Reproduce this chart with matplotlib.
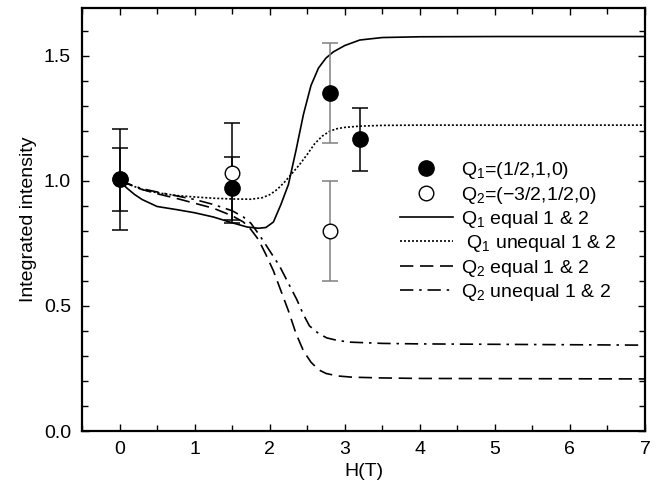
import matplotlib
matplotlib.use("Agg")
import matplotlib.pyplot as plt
from matplotlib.lines import Line2D
from matplotlib.legend_handler import HandlerLine2D
from matplotlib.ticker import MultipleLocator

plt.rcParams['font.family'] = ['Liberation Sans', 'DejaVu Sans']
plt.rcParams['mathtext.fontset'] = 'custom'
plt.rcParams['mathtext.rm'] = 'Liberation Sans'
plt.rcParams['mathtext.it'] = 'Liberation Sans'

# ---- data ----
# measured points
h_q1 = [0.0, 1.5, 2.8, 3.2]
y_q1 = [1.005, 0.97, 1.35, 1.165]
e_q1 = [0.125, 0.125, 0.2, 0.125]

h_q2 = [0.0, 1.5, 2.8]
y_q2 = [1.005, 1.03, 0.80]
e_q2 = [0.2, 0.2, 0.2]

# calculated curves
h_q1_eq = [0, 0.1, 0.2, 0.3, 0.5, 0.75, 1.0, 1.25, 1.5, 1.7, 1.85, 1.95, 2.05, 2.15,
           2.25, 2.35, 2.45, 2.55, 2.65, 2.75, 2.85, 3.0, 3.2, 3.5, 4.0, 5.0, 7.0]
y_q1_eq = [1.0, 0.97, 0.945, 0.925, 0.897, 0.885, 0.872, 0.855, 0.832, 0.815, 0.81, 0.813,
           0.835, 0.905, 0.985, 1.12, 1.265, 1.38, 1.45, 1.49, 1.515, 1.54, 1.562, 1.572,
           1.575, 1.576, 1.576]

h_q1_uneq = [0, 0.3, 0.5, 0.75, 1.0, 1.25, 1.5, 1.75, 1.9, 2.0, 2.1, 2.2, 2.3, 2.4, 2.5,
             2.6, 2.7, 2.8, 2.9, 3.0, 3.2, 3.5, 4.0, 7.0]
y_q1_uneq = [1.0, 0.965, 0.952, 0.941, 0.935, 0.93, 0.927, 0.926, 0.932, 0.944, 0.965,
             0.995, 1.03, 1.065, 1.105, 1.148, 1.178, 1.198, 1.208, 1.213, 1.218, 1.221,
             1.222, 1.222]

h_q2_eq = [0, 0.3, 0.5, 0.75, 1.0, 1.25, 1.5, 1.65, 1.75, 1.85, 1.95, 2.05, 2.15, 2.25,
           2.35, 2.45, 2.55, 2.65, 2.75, 2.9, 3.1, 3.5, 4.0, 7.0]
y_q2_eq = [1.0, 0.965, 0.948, 0.93, 0.91, 0.89, 0.86, 0.835, 0.805, 0.765, 0.705, 0.64,
           0.56, 0.48, 0.39, 0.32, 0.275, 0.245, 0.23, 0.22, 0.215, 0.212, 0.21, 0.208]

h_q2_uneq = [0, 0.3, 0.5, 0.75, 1.0, 1.25, 1.5, 1.65, 1.75, 1.87, 2.0, 2.13, 2.25, 2.36,
             2.45, 2.53, 2.65, 2.76, 2.9, 3.07, 3.5, 4.0, 7.0]
y_q2_uneq = [1.0, 0.968, 0.955, 0.94, 0.925, 0.905, 0.88, 0.855, 0.83, 0.78, 0.72, 0.66,
             0.59, 0.526, 0.465, 0.42, 0.39, 0.372, 0.362, 0.355, 0.35, 0.348, 0.343]

labels = [r"Q$_1$=(1/2,1,0)", r"Q$_2$=(−3/2,1/2,0)", r"Q$_1$ equal 1 & 2",
          r" Q$_1$ unequal 1 & 2", r"Q$_2$ equal 1 & 2", r"Q$_2$ unequal 1 & 2"]

# styles
ecol_q1 = ['black', 'black', '#808080', 'black']
ecol_q2 = ['black', 'black', '#808080']

FS = 14

fig = plt.figure(figsize=(6.59, 4.82), dpi=100)
ax = fig.add_axes([82/659, 51/482, 563/659, 423/482])

lw = 1.2
ax.plot(h_q1_eq, y_q1_eq, color='black', lw=lw, ls='-')
ax.plot(h_q1_uneq, y_q1_uneq, color='black', lw=lw, ls=(0, (1.2, 1.2)))
ax.plot(h_q2_eq, y_q2_eq, color='black', lw=lw, ls=(0, (8, 4)))
ax.plot(h_q2_uneq, y_q2_uneq, color='black', lw=lw, ls=(0, (8, 3.5, 1.5, 3.5)))

for x, y, e, c in zip(h_q2, y_q2, e_q2, ecol_q2):
    ax.errorbar([x], [y], yerr=[e], fmt='none', ecolor=c, elinewidth=1.1, capsize=5.5, capthick=1.1)
for x, y, e, c in zip(h_q1, y_q1, e_q1, ecol_q1):
    ax.errorbar([x], [y], yerr=[e], fmt='none', ecolor=c, elinewidth=1.1, capsize=5.5, capthick=1.1)

ax.plot(h_q2, y_q2, ls='none', marker='o', ms=10.5, mfc='white', mec='black', mew=1.0, zorder=5)
ax.plot(h_q1, y_q1, ls='none', marker='o', ms=11, mfc='black', mec='black', zorder=6)

ax.set_xlim(-0.5, 7)
ax.set_ylim(0, 1.69)
ax.xaxis.set_major_locator(MultipleLocator(1))
ax.xaxis.set_minor_locator(MultipleLocator(0.5))
ax.yaxis.set_minor_locator(MultipleLocator(0.1))
ax.set_yticks([0.0, 0.5, 1.0, 1.5])
ax.set_yticklabels(['0.0', '0.5', '1.0', '1.5'])
ax.tick_params(which='both', direction='in', top=True, right=True, labelsize=FS, width=1.0)
ax.tick_params(which='major', length=5)
ax.tick_params(axis='y', which='major', pad=8)
ax.tick_params(axis='x', which='major', pad=7)
ax.tick_params(which='minor', length=4)
for s in ax.spines.values():
    s.set_linewidth(1.6)

ax.set_xlabel('H(T)', fontsize=FS, labelpad=4)
ax.set_ylabel('Integrated intensity', fontsize=FS, labelpad=5)


class RightMarker(HandlerLine2D):
    def get_xdata(self, legend, xdescent, ydescent, width, height, fontsize):
        xd, xm = super().get_xdata(legend, xdescent, ydescent, width, height, fontsize)
        return xd, [-xdescent + width - 3.5]


handles = [
    Line2D([], [], ls='none', marker='o', ms=11, mfc='black', mec='black'),
    Line2D([], [], ls='none', marker='o', ms=10.5, mfc='white', mec='black', mew=1.0),
    Line2D([], [], color='black', lw=lw, ls='-'),
    Line2D([], [], color='black', lw=lw, ls=(0, (1.2, 1.2))),
    Line2D([], [], color='black', lw=lw, ls=(0, (8, 4))),
    Line2D([], [], color='black', lw=lw, ls=(0, (8, 3.5, 1.5, 3.5))),
]
hm = {handles[0]: RightMarker(numpoints=1), handles[1]: RightMarker(numpoints=1)}
ax.legend(handles, labels, handler_map=hm, loc='upper left', bbox_to_anchor=(0.565, 0.64),
          frameon=False, fontsize=FS, handlelength=2.7, handletextpad=0.45,
          labelspacing=0.17, borderpad=0, borderaxespad=0)

fig.savefig('out.png', dpi=100)
